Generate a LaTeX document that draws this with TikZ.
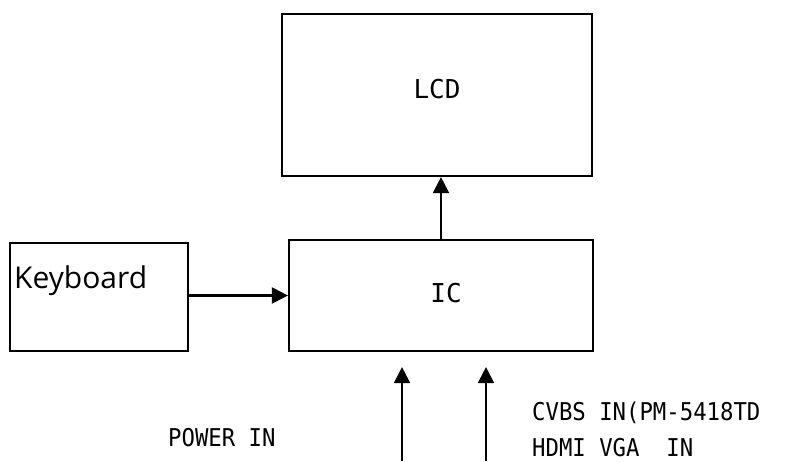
\documentclass[tikz,border=0pt]{standalone}
\usepackage{fontspec}
\setmainfont{Open Sans}
\newfontfamily\monof[FakeStretch=0.91]{DejaVu Sans Mono}
\newfontfamily\monob{DejaVu Sans Mono}
\usetikzlibrary{arrows.meta}
\begin{document}
\begin{tikzpicture}[x=1pt,y=-1pt,
  box/.style={draw, line width=2.2pt, inner sep=0pt},
  conn/.style={line width=2.2pt, -{Triangle[width=16pt,length=16pt]}},
  bigmono/.style={font=\monob\fontsize{26}{30}\selectfont, inner sep=0pt},
  smallmono/.style={font=\monof\fontsize{24.5}{28}\selectfont, inner sep=0pt, anchor=base west},
  kbtxt/.style={font=\fontsize{30}{34}\selectfont, inner sep=0pt, anchor=base west}]
\useasboundingbox (0,0) rectangle (809,461);
% boxes
\node[box, minimum width=310pt, minimum height=162pt] (lcd) at (437,95) {};
\node[box, minimum width=304pt, minimum height=111pt] (ic) at (441,295.5) {};
\node[box, minimum width=178pt, minimum height=108pt] (kb) at (99,297) {};
% texts
\node[bigmono] (lcdtext) at (437,89) {LCD};
\node[bigmono] (ictext) at (446,293) {IC};
\node[kbtxt] (kbtext) at (14,288) {Keyboard};
\node[smallmono] (cvbs) at (532,420) {CVBS IN(PM-5418TD};
\node[smallmono] (hdmi) at (532,456) {HDMI VGA\ \ IN};
\node[smallmono] (power) at (168,446) {POWER IN};
% connectors
\draw[conn] (kb.east |- ic.west) -- (ic.west);
\draw[conn] (ic.north) -- (ic.north |- lcd.south);
\coordinate (in1) at (402,461);
\coordinate (in2) at (486,461);
\draw[conn, shorten >=15pt] (in1) -- (in1 |- ic.south);
\draw[conn, shorten >=15pt] (in2) -- (in2 |- ic.south);
\end{tikzpicture}
\end{document}
